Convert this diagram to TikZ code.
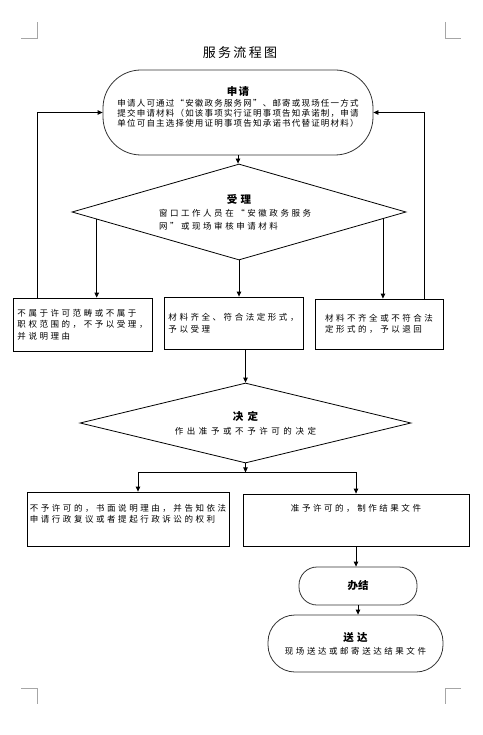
\documentclass[tikz,border=0pt]{standalone}
\usepackage{fontspec}
\setmainfont{Noto Sans CJK SC}
\newfontfamily\titlefont[LetterSpace=18]{Noto Sans CJK SC}
\newfontfamily\bodyfont[LetterSpace=30]{Noto Sans CJK SC}
\newfontfamily\applyfont[LetterSpace=14]{Noto Sans CJK SC}
\newfontfamily\widefont[LetterSpace=42]{Noto Sans CJK SC}
\usetikzlibrary{arrows.meta, shapes.geometric, calc}
\definecolor{darkline}{HTML}{000000}
\definecolor{stadiumborder}{HTML}{333333}
\definecolor{markgray}{HTML}{A6A6A6}
\tikzset{
  stadium/.style={rectangle, draw=stadiumborder, line width=0.8pt, align=center},
  decision/.style={diamond, draw=darkline, line width=0.8pt, inner sep=0pt, shape aspect=3.5},
  box/.style={rectangle, draw=darkline, line width=0.8pt, align=left, font=\bodyfont\fontsize{8.5}{11.5}\selectfont},
  flow/.style={-{Triangle[length=5pt, width=4.5pt]}, line width=0.8pt, draw=darkline},
  cropmark/.style={draw=markgray, line width=0.8pt}
}
\newcommand{\headline}[1]{{\bfseries\fontsize{10.5}{13}\selectfont #1}}

\begin{document}
\begin{tikzpicture}[x=1pt, y=-1pt]
\useasboundingbox (0,0) rectangle (482,735);

% page corner marks
\draw[cropmark] (21,38) -- (37,38) -- (37,22);
\draw[cropmark] (445,22) -- (445,38) -- (461,38);
\draw[cropmark] (21,688) -- (37,688) -- (37,704);
\draw[cropmark] (461,688) -- (445,688) -- (445,704);

\node[font=\titlefont\fontsize{13}{15}\selectfont] (title) at (240,53) {服务流程图};

\node[stadium, minimum width=270pt, minimum height=85pt, rounded corners=38pt,
  font=\applyfont\fontsize{8.5}{10}\selectfont] (apply) at (238,112.5)
  {\headline{申请}\\[1pt]申请人可通过“安徽政务服务网”、邮寄或现场任一方式\\提交申请材料（如该事项实行证明事项告知承诺制，申请\\单位可自主选择使用证明事项告知承诺书代替证明材料）\\[1pt]\mbox{}};

\node[decision, minimum width=334pt, minimum height=96pt, text width=160pt, align=left,
  font=\bodyfont\fontsize{8.5}{13}\selectfont] (accept) at (239,212)
  {\makebox[160pt]{\headline{受理}}\\窗口工作人员在“安徽政务服务\\网”或现场审核申请材料};

\node[box, minimum width=139pt, minimum height=53pt] (reject) at (82.5,324.5)
  {不属于许可范畴或不属于\\职权范围的，不予以受理，\\并说明理由};
\node[box, minimum width=139pt, minimum height=52pt] (ok) at (233.5,323)
  {材料齐全、符合法定形式，\\予以受理};
\node[box, minimum width=128pt, minimum height=50pt] (back) at (379,324)
  {材料不齐全或不符合法\\定形式的，予以退回};

\node[decision, minimum width=331pt, minimum height=80pt, align=center,
  font=\widefont\fontsize{8.5}{14}\selectfont] (decide) at (245.5,423)
  {\headline{决定}\\作出准予或不予许可的决定};

\node[box, minimum width=202pt, minimum height=54pt, inner xsep=1pt] (deny) at (128,519)
  {不予许可的，书面说明理由，并告知依法\\申请行政复议或者提起行政诉讼的权利\\\mbox{}};
\node[box, minimum width=226pt, minimum height=52pt, align=center] (grant) at (356,520)
  {准予许可的，制作结果文件\\[13pt]\mbox{}};

\node[stadium, minimum width=118pt, minimum height=38pt, rounded corners=18pt] (finish) at (358,586)
  {\headline{办结}};
\node[stadium, minimum width=175pt, minimum height=57pt, rounded corners=27pt,
  font=\bodyfont\fontsize{8.5}{13}\selectfont] (deliver) at (355.5,643.5)
  {\headline{送达}\\现场送达或邮寄送达结果文件};

\coordinate (acceptleft) at ($(accept.west)!0.15!(accept.south)$);
\coordinate (acceptright) at ($(accept.east)!0.14!(accept.south)$);
\coordinate (split) at ($(decide.south)+(0,9)$);

\draw[flow] (apply.south) -- (apply.south |- accept.north);
\draw[flow] (acceptleft) -- (acceptleft |- reject.north);
\draw[flow] (accept.south) -- (accept.south |- ok.north);
\draw[flow] (acceptright) -- (acceptright |- back.north);
\draw[flow] ([xshift=25pt]reject.north west) |- (apply.west);
\draw[flow] ([xshift=-19pt]back.north east) |- (apply.east);
\draw[flow] (decide.north |- ok.south) -- (decide.north);
\draw[flow] (decide.south) -- (split);
\draw[flow] (split) -| ([xshift=10pt]deny.north);
\draw[flow] (split) -| (grant.north);
\draw[flow] (grant.south) -- (grant.south |- finish.north);
\draw[flow] (finish.south) -- (finish.south |- deliver.north);

\end{tikzpicture}
\end{document}
